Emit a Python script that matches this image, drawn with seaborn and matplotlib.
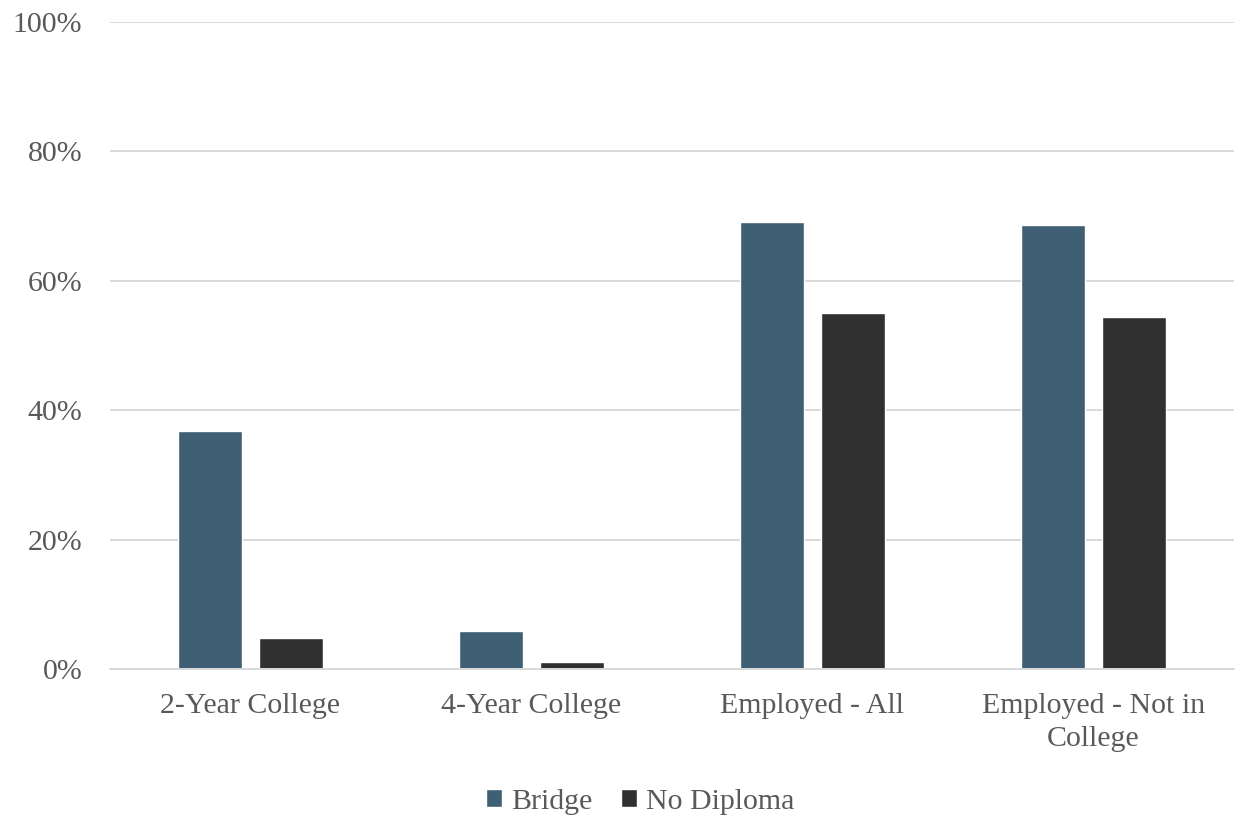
import numpy as np
import pandas as pd
import seaborn as sns
import matplotlib.pyplot as plt
from matplotlib.ticker import PercentFormatter

categories = ["2-Year College", "4-Year College", "Employed - All", "Employed - Not in\nCollege"]
bridge = [36.8, 5.9, 69.1, 68.6]
no_diploma = [4.8, 1.1, 55.0, 54.4]
groups = ["Bridge", "No Diploma"]

df = pd.DataFrame({
    "category": categories * 2,
    "value": bridge + no_diploma,
    "group": [groups[0]] * 4 + [groups[1]] * 4,
})

sns.set_style("white")
plt.rcParams['font.family'] = ['Liberation Serif', 'DejaVu Serif']
text_color = "#595959"

fig = plt.figure(figsize=(12.36, 8.19), dpi=100)
ax = fig.add_axes([110 / 1236, 1 - 669 / 819, 1124 / 1236, 647 / 819])

sns.barplot(data=df, x="category", y="value", hue="group", hue_order=groups,
            palette=["#3F5F74", "#303030"], width=0.577, gap=0.22,
            saturation=1, ax=ax, legend=True)

ax.set_ylim(0, 100)
ax.set_xlim(-0.5, 3.5)
ax.set_yticks(np.arange(0, 101, 20))
ax.yaxis.set_major_formatter(PercentFormatter(decimals=0))
ax.grid(axis="y", color="#D9D9D9", linewidth=1.4)
ax.set_axisbelow(True)
for side in ["top", "right", "left"]:
    ax.spines[side].set_visible(False)
ax.spines["bottom"].set_color("#D9D9D9")
ax.spines["bottom"].set_linewidth(1.4)
ax.tick_params(axis="both", length=0, labelsize=21.5, labelcolor=text_color)
ax.tick_params(axis="y", pad=20)
ax.tick_params(axis="x", pad=17)
for lbl in ax.get_xticklabels():
    lbl.set_linespacing(1.35)
ax.set_xlabel("")
ax.set_ylabel("")

handles, labels = ax.get_legend_handles_labels()
ax.legend(handles, labels, loc="center", bbox_to_anchor=(0.4715, -0.205), ncol=2,
          frameon=False, fontsize=21.5, labelcolor=text_color,
          handlelength=0.55, handleheight=0.55, handletextpad=0.3, columnspacing=0.95)

fig.savefig("out.png", dpi=100)
